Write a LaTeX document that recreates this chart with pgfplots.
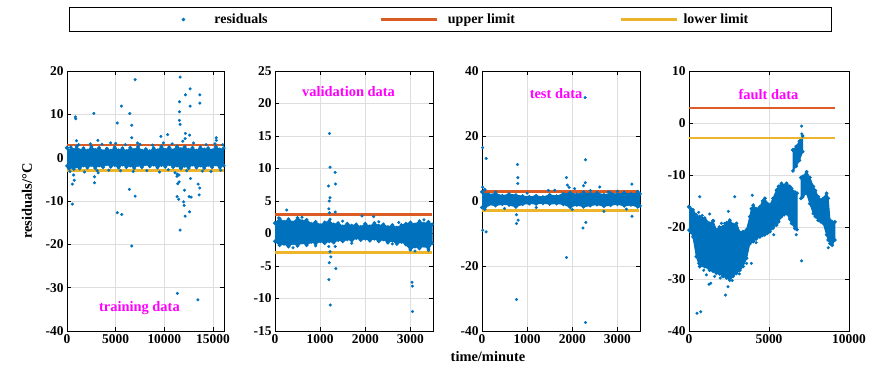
\documentclass[border=0pt]{standalone}
\usepackage{fontspec}
\setmainfont{Liberation Serif}
\usepackage{pgfplots}
\pgfplotsset{compat=1.18}
\definecolor{blue0}{HTML}{0072BD}
\definecolor{redl}{HTML}{D95319}
\definecolor{yell}{HTML}{EDB120}
\definecolor{magt}{HTML}{FF00FF}
\tikzset{lab/.style={font=\fontsize{14.5}{14.5}\selectfont\bfseries, text=magt}}
\pgfplotsset{
  every axis/.append style={
    scale only axis,
    height=260bp,
    anchor=south west,
    axis line style={line width=0.7bp, black},
    tick align=inside,
    major tick length=4bp,
    every tick/.style={black, line width=0.6bp},
    grid=major,
    grid style={line width=0.6bp, black!13},
    /pgf/number format/assume math mode=true,
    /pgf/number format/1000 sep={},
    scaled x ticks=false,
    scaled y ticks=false,
    tick label style={font=\fontsize{13.5}{13.5}\selectfont\bfseries},
    clip=true,
  },
  resid/.style={only marks, mark=*, mark size=1.35bp, blue0, mark options={draw=blue0, fill=blue0},
    legend image code/.code={\path[draw=none,fill=none] (0bp,0bp) -- (56bp,0bp); \fill[blue0] (28bp,0bp) circle (1.35bp);}},
  band/.style={fill=blue0, draw=blue0, line width=1bp, mark=*, mark size=1.35bp, forget plot},
  upl/.style={redl, line width=2.6bp, opacity=0.95,
    legend image code/.code={\draw[line width=2.6bp] (0bp,0bp) -- (56bp,0bp);}},
  lol/.style={yell, line width=2.6bp, opacity=0.95,
    legend image code/.code={\draw[line width=2.6bp] (0bp,0bp) -- (56bp,0bp);}},
}
\begin{document}
\begin{tikzpicture}
\useasboundingbox (0bp,0bp) rectangle (880bp,367bp);
% ---------------- panel 1: training data
\begin{axis}[
  at={(67bp,36bp)}, width=157bp,
  xmin=0, xmax=16130, ymin=-40, ymax=20,
  xtick={0,5000,10000,15000}, ytick={-40,-30,...,20},
  ylabel={residuals/°C},
  ylabel style={font=\fontsize{14.5}{14.5}\selectfont\bfseries, at={(axis description cs:-0.255,0.5)}, anchor=center},
  legend columns=3,
  legend style={at={(axis description cs:0.0127,1.246)}, anchor=north west,
    draw=black, line width=0.8bp, fill=white,
    inner xsep=86bp, inner ysep=4.5bp,
    column sep=0pt,
    nodes={inner xsep=0pt, inner ysep=2bp, font=\fontsize{14}{14}\selectfont\bfseries}},
]
\addplot[band] table {
0 2.3
200 1.6
400 2.4
700 1.8
1000 2.6
1300 1.7
1700 2.2
2100 1.6
2500 2.5
2900 1.8
3300 2.3
3700 1.5
4100 2.1
4500 1.6
4900 2.4
5300 1.7
5700 2.2
6100 1.5
6500 2.3
6900 1.8
7300 2.5
7700 1.6
8100 2.0
8500 1.5
8900 2.2
9300 1.7
9700 2.6
10100 1.8
10500 2.4
10900 1.7
11300 2.6
11700 2.0
12100 2.5
12500 1.8
12900 2.3
13300 1.6
13700 2.4
14100 1.9
14500 2.2
14900 1.7
15300 2.5
15700 1.9
16100 2.2
16100 -1.8
15700 -2.3
15300 -1.6
14900 -2.2
14500 -1.7
14100 -2.4
13700 -1.8
13300 -2.3
12900 -1.6
12500 -2.4
12100 -1.9
11700 -2.5
11300 -1.8
10900 -2.2
10500 -1.5
10100 -2.1
9700 -1.7
9300 -2.3
8900 -1.6
8500 -2.0
8100 -1.5
7700 -2.2
7300 -1.7
6900 -2.4
6500 -1.8
6100 -2.2
5700 -1.6
5300 -2.3
4900 -1.7
4500 -2.1
4100 -1.5
3700 -2.2
3300 -1.8
2900 -2.4
2500 -1.7
2100 -2.3
1700 -1.8
1300 -2.5
1000 -2.0
700 -2.6
400 -2.2
200 -2.5
0 -1.9
0 2.3
};
\addplot[resid] table {
860 9.4
900 9.0
2760 10.2
7000 18.0
5170 8.0
5590 11.9
6450 10.2
6650 7.5
6650 4.6
970 3.9
3170 4.0
550 -10.7
550 -6.1
750 -5.2
680 -4.0
2830 -5.8
2830 -4.4
3200 -3.5
5170 -12.7
5620 -13.1
6410 -7.3
7000 -8.9
6650 -20.4
11620 18.6
11550 12.9
11550 10.6
11550 8.6
11620 7.7
12170 14.5
12650 15.9
12650 11.9
13650 14.5
13650 12.6
12590 5.2
12170 5.6
12140 4.4
10340 5.3
9650 4.9
11310 -9.0
11480 -9.6
11620 -16.7
12030 -11.0
12140 -13.5
12590 -12.5
12550 -9.0
12760 -9.1
12070 -7.5
11380 -6.0
11520 -5.6
12690 -4.8
13480 -6.1
13650 -7.0
13580 -8.6
11340 -31.3
13450 -32.8
11980 -10.2
11300 -4.3
11350 -3.8
11500 -4.0
15340 4.6
15340 4.0
7240 3.4
4480 3.4
300 -3.2
1200 3.0
1800 -3.3
2400 3.2
3100 -3.0
3600 3.1
4300 -2.9
5000 3.3
5500 -3.0
6000 3.0
6800 -3.2
7500 3.1
8200 -3.0
8800 2.9
9500 -3.3
9900 3.4
10400 -2.8
10800 3.2
11100 -3.5
11900 3.8
12300 -3.0
13000 3.4
13900 -3.1
14300 3.0
14800 -3.2
15200 3.2
15800 -2.9
16000 3.0
};
\addlegendentry{\makebox[168bp][l]{\hspace{3bp}residuals}}
\addplot[upl] coordinates {(0,2.9) (16100,2.9)};
\addlegendentry{\makebox[182bp][l]{\hspace{10bp}upper limit}}
\addplot[lol] coordinates {(0,-2.9) (16100,-2.9)};
\addlegendentry{\makebox[67bp][l]{\hspace{5bp}lower limit}}
\node[lab] at (axis cs:7440,-34.7) {training data};
\end{axis}
% ---------------- panel 2: validation data
\begin{axis}[
  at={(275bp,36bp)}, width=158bp,
  xmin=0, xmax=3500, ymin=-15, ymax=25,
  xtick={0,1000,2000,3000}, ytick={-15,-10,...,25},
]
\addplot[band] table {
0 1.6
100 2.3
200 1.8
300 2.2
400 1.7
500 2.4
600 1.9
700 2.1
800 1.5
900 1.8
1000 1.3
1100 1.7
1200 1.9
1300 1.4
1400 1.6
1500 1.1
1600 1.5
1700 1.2
1800 1.4
1900 1.0
2000 1.5
2100 1.1
2200 1.6
2300 1.2
2400 1.4
2500 1.0
2600 1.3
2700 0.9
2800 1.3
2900 1.5
3000 1.7
3100 1.4
3200 1.9
3300 1.5
3400 1.8
3480 1.4
3480 -1.5
3400 -2.4
3300 -1.9
3200 -2.3
3100 -2.0
3000 -2.5
2900 -1.7
2800 -1.3
2700 -1.6
2600 -1.1
2500 -1.4
2400 -0.9
2300 -1.2
2200 -0.8
2100 -1.1
2000 -0.8
1900 -1.0
1800 -0.7
1700 -1.1
1600 -0.9
1500 -1.2
1400 -1.0
1300 -1.4
1200 -1.2
1100 -1.5
1000 -1.2
900 -1.6
800 -1.3
700 -1.8
600 -1.4
500 -1.9
400 -1.5
300 -2.0
200 -1.6
100 -1.8
0 -1.2
0 1.6
};
\addplot[resid] table {
260 3.6
1207 15.4
1220 10.2
1333 9.4
1340 7.6
1185 7.3
1200 5.0
1220 5.5
1193 3.8
1207 3.2
1333 3.3
1220 2.2
1193 -2.0
1220 -2.8
1237 -3.6
1200 -4.5
1333 -2.0
1348 -5.4
1193 -7.1
1222 -11.0
3037 -7.5
3044 -8.1
3044 -12.0
1926 2.7
2185 2.6
2741 1.7
80 2.4
400 -2.2
600 2.5
900 -1.9
1500 1.9
1700 -1.5
2300 1.8
2600 -1.6
3100 -2.7
3300 2.1
3400 -2.6
};
\addplot[upl] coordinates {(0,2.9) (3480,2.9)};
\addplot[lol] coordinates {(0,-2.9) (3480,-2.9)};
\node[lab] at (axis cs:1630,21.8) {validation data};
\end{axis}
% ---------------- panel 3: test data
\begin{axis}[
  at={(482bp,36bp)}, width=158bp,
  xmin=0, xmax=3500, ymin=-40, ymax=40,
  xtick={0,1000,2000,3000}, ytick={-40,-20,...,40},
  xlabel={time/minute},
  xlabel style={font=\fontsize{14.5}{14.5}\selectfont\bfseries, at={(axis description cs:0.038,-0.10)}, anchor=center},
]
\addplot[band] table {
0 2.8
60 3.5
150 2.0
300 2.3
450 1.6
600 2.1
750 1.8
900 1.5
1050 1.3
1200 1.6
1350 1.2
1500 1.9
1650 1.5
1800 2.2
1950 2.6
2100 2.0
2250 2.7
2400 2.3
2550 2.5
2700 1.9
2850 2.4
3000 2.1
3150 2.6
3300 2.2
3450 2.8
3500 2.2
3500 -1.5
3450 -1.8
3300 -1.2
3150 -1.5
3000 -1.0
2850 -1.3
2700 -1.6
2550 -1.1
2400 -1.4
2250 -1.8
2100 -1.2
1950 -1.9
1800 -1.0
1650 -0.8
1500 -0.9
1350 -0.7
1200 -0.9
1050 -0.8
900 -1.0
750 -1.8
600 -1.2
450 -1.0
300 -1.4
150 -1.1
60 -2.5
0 -2.0
0 2.8
};
\addplot[resid] table {
14 16.4
93 13.1
14 4.3
14 -9.0
93 -9.5
786 11.2
793 7.2
793 5.4
764 -4.2
764 -6.9
800 -5.9
764 -30.3
1871 7.2
1890 4.9
1930 4.2
1871 -17.4
2286 31.8
2293 12.7
2286 5.6
2250 4.7
2300 -6.6
2236 -8.3
2293 -37.4
2607 4.3
3321 5.2
3321 -4.7
1470 3.3
1610 3.3
2050 3.8
2700 -3.2
3000 3.0
300 2.8
500 -2.3
1000 2.4
1200 -2.0
2000 -2.6
2400 3.2
2800 2.8
3200 -2.5
3450 2.9
};
\addplot[upl] coordinates {(0,2.9) (3480,2.9)};
\addplot[lol] coordinates {(0,-2.9) (3480,-2.9)};
\node[lab] at (axis cs:1640,33.2) {test data};
\end{axis}
% ---------------- panel 4: fault data
\begin{axis}[
  at={(689bp,36bp)}, width=160bp,
  xmin=0, xmax=10000, ymin=-40, ymax=10,
  xtick={0,5000,10000}, ytick={-40,-30,...,10},
]
\addplot[band] table {
0 -16.1
120 -16.5
250 -16.7
460 -17.7
670 -18.0
980 -18.3
1290 -19.3
1500 -18.8
1710 -20.6
1900 -20.0
2130 -19.9
2350 -19.2
2550 -18.7
2750 -19.5
2970 -19.3
3180 -21.0
3380 -20.9
3600 -20.5
3800 -18.0
3900 -16.5
4010 -15.8
4200 -16.5
4430 -16.1
4600 -15.0
4740 -14.5
4900 -15.5
5050 -15.8
5250 -14.5
5470 -12.9
5600 -12.2
5780 -11.6
5950 -12.0
6100 -11.6
6300 -12.2
6410 -12.6
6620 -13.3
6750 -13.5
6750 -20.5
6620 -20.3
6410 -19.3
6300 -18.5
6100 -17.4
5950 -17.6
5780 -18.0
5600 -19.0
5470 -19.6
5250 -20.2
5050 -20.9
4900 -21.2
4740 -21.5
4600 -21.6
4430 -21.9
4200 -22.3
4010 -22.8
3800 -23.2
3600 -26.0
3380 -27.6
3180 -28.3
2970 -28.9
2750 -29.5
2550 -30.2
2350 -29.8
2130 -29.5
1900 -29.0
1710 -28.9
1500 -28.5
1290 -28.3
980 -27.6
670 -27.6
460 -25.7
250 -21.9
120 -21.0
0 -20.6
0 -16.1
};
\addplot[band] table {
7000 -10.5
7100 -10.3
7350 -9.4
7550 -10.5
7770 -12.2
7900 -13.0
8080 -14.2
8250 -14.8
8390 -14.5
8600 -13.5
8700 -14.5
8810 -18.7
8950 -19.0
9120 -19.0
9120 -22.5
8950 -23.5
8810 -23.2
8700 -22.5
8600 -21.5
8390 -19.3
8250 -19.0
8080 -18.7
7900 -18.0
7770 -17.4
7550 -15.5
7350 -13.5
7100 -14.2
7000 -14.5
7000 -10.5
};
\addplot[band] table {
6500 -5.2
6700 -4.5
6900 -3.5
7100 -2.5
7100 -5.5
6900 -7.2
6700 -8.3
6500 -9.2
6500 -5.2
};
\addplot[resid] table {
670 -14.2
600 -17.2
520 -18.9
830 -17.8
1000 -18.5
1290 -17.5
1540 -18.8
1800 -20.6
2030 -19.3
2230 -19.3
2460 -17.0
2860 -14.2
3950 -13.9
2440 -31.5
2280 -33.1
500 -36.6
730 -36.3
1360 -30.8
1250 -31.0
1090 -29.2
920 -28.3
600 -27.0
1600 -29.5
1950 -29.8
2700 -30.3
3150 -29.0
3600 -27.0
3900 -27.0
7040 -26.5
7040 -0.6
7050 -2.1
3700 -23.5
4200 -23.0
5300 -21.5
6700 -21.5
8700 -24.0
};
\addplot[upl] coordinates {(0,2.9) (9100,2.9)};
\addplot[lol] coordinates {(0,-2.9) (9100,-2.9)};
\node[lab] at (axis cs:4970,5.4) {fault data};
\end{axis}
\end{tikzpicture}
\end{document}
